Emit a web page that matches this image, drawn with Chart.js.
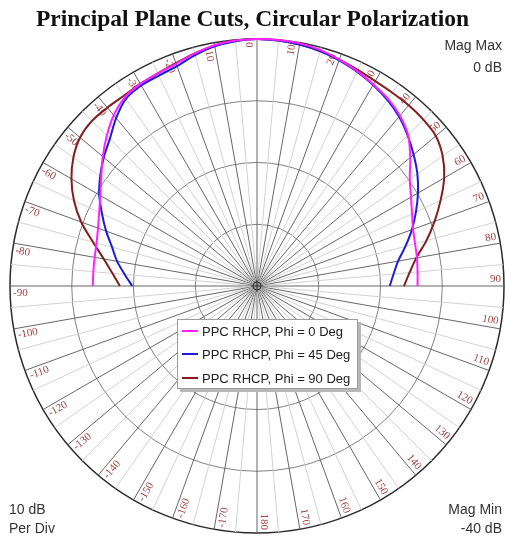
<!DOCTYPE html>
<html>
<head>
<meta charset="utf-8">
<script src="https://cdn.jsdelivr.net/npm/chart.js@4/dist/chart.umd.min.js"></script>
<style>
  html, body { margin: 0; padding: 0; background: #fff; }
  #wrap { position: relative; width: 505px; height: 539px; overflow: hidden; }
  #plot { position: absolute; left: 0; top: 0; }
  .title { position: absolute; left: 0; top: 7px; width: 505px; text-align: center;
           font: bold 23.5px "Liberation Serif", "Times New Roman", serif; line-height: 23px; color: #111; }
  .note { position: absolute; font: 14px "Liberation Sans", Arial, sans-serif; line-height: 16px; color: #333; white-space: nowrap; }
  .r { text-align: right; }
  #legend { position: absolute; left: 177px; top: 319px; width: 179px; height: 68px; background: #fff;
            border: 1px solid #9c9c9c; box-shadow: 3px 3px 0 #b8b8b8; }
  .row { position: absolute; left: 4px; height: 16px; display: flex; align-items: center; white-space: nowrap;
         font: 13px "Liberation Sans", Arial, sans-serif; color: #222; }
  .swatch { width: 16px; height: 2px; margin-right: 4px; }
</style>
</head>
<body>
<div id="wrap">
  <canvas id="plot" width="505" height="539"></canvas>
  <div class="title">Principal Plane Cuts, Circular Polarization</div>
  <div class="note r" style="right:3px; top:37px;">Mag Max</div>
  <div class="note r" style="right:3px; top:59px;">0 dB</div>
  <div class="note" style="left:9px; top:501px;">10 dB</div>
  <div class="note" style="left:9px; top:520px;">Per Div</div>
  <div class="note r" style="right:3px; top:501px;">Mag Min</div>
  <div class="note r" style="right:3px; top:520px;">-40 dB</div>
  <div id="legend"></div>
</div>
<script>
// Theta (deg, 0 = boresight at top, clockwise positive) and gain in dB per cut
const thetaDeg = [-90, -85, -80, -75, -70, -65, -60, -55, -50, -45, -40, -35, -30, -25, -20, -15, -10, -5,
                  0, 5, 10, 15, 20, 25, 30, 35, 40, 45, 50, 55, 60, 65, 70, 75, 80, 85, 90];
const phi0 = [-13.4, -13.4, -13.3, -13.1, -12.6, -11.8, -10.7, -9.2, -7.4, -5.6, -3.9, -2.7, -2.2, -2.0, -1.7, -1.0, -0.4, -0.1,
              0.0, 0.0, -0.1, -0.4, -1.0, -1.6, -2.3, -3.0, -4.0, -5.4, -7.6, -9.8, -11.2, -12.3, -13.1, -13.5, -13.7, -13.9, -14.0];
const phi45 = [-19.8, -18.5, -17.0, -15.7, -14.0, -12.3, -10.5, -9.0, -7.6, -6.3, -4.5, -3.0, -2.5, -2.4, -2.1, -1.3, -0.6, -0.2,
               0.0, -0.1, -0.3, -0.6, -1.1, -1.7, -2.4, -3.2, -4.2, -5.5, -6.9, -8.3, -9.9, -11.6, -13.3, -15.1, -16.8, -17.8, -18.5];
const phi90 = [-17.8, -16.5, -14.8, -12.5, -9.7, -7.3, -5.3, -3.7, -2.6, -2.2, -2.3, -2.4, -2.2, -2.0, -1.6, -1.0, -0.5, -0.1,
               0.0, -0.1, -0.3, -0.6, -1.0, -1.4, -1.7, -1.8, -1.8, -1.9, -2.2, -3.3, -5.0, -7.2, -9.4, -11.6, -13.8, -15.2, -16.2];

const seriesNames = ['PPC RHCP, Phi = 0 Deg', 'PPC RHCP, Phi = 45 Deg', 'PPC RHCP, Phi = 90 Deg'];
const seriesColors = ['#ff22ff', '#1c1ce0', '#861c1c'];

// Angle tick labels, every 10 deg going clockwise from the top
const angleTickLabels = ['0', '10', '20', '30', '40', '50', '60', '70', '80', '90', '100', '110', '120', '130', '140', '150', '160', '170',
                         '180', '-170', '-160', '-150', '-140', '-130', '-120', '-110', '-100', '-90', '-80', '-70', '-60', '-50', '-40', '-30', '-20', '-10'];

const magMin = -40, magMax = 0, magStep = 10;
const spokeStep = 5;                 // one spoke every 5 deg, labelled every 10 deg
const spokeCount = 360 / spokeStep;

// Spoke labels for the radial scale (one per 5 deg)
const spokes = [];
for (let i = 0; i < spokeCount; i++) spokes.push(String(i * spokeStep));

// Place each cut's samples on the matching spoke; the back hemisphere stays empty
function onSpokes(values) {
  const arr = new Array(spokeCount).fill(null);
  thetaDeg.forEach((t, k) => {
    const idx = (((t % 360) + 360) % 360) / spokeStep;
    arr[idx] = values[k];
  });
  return arr;
}
const seriesValues = [phi0, phi45, phi90];

// Legend
const legendEl = document.getElementById('legend');
const rowTops = [3, 26, 50];
seriesNames.forEach((name, i) => {
  const row = document.createElement('div');
  row.className = 'row';
  row.style.top = rowTops[i] + 'px';
  row.innerHTML = '<span class="swatch" style="background:' + seriesColors[i] + '"></span><span>' + name + '</span>';
  legendEl.appendChild(row);
});

// Rotated angle labels and the small centre marker
const polarDecor = {
  id: 'polarDecor',
  beforeDatasetsDraw(chart) {
    const s = chart.scales.r;
    const ctx = chart.ctx;
    ctx.save();
    ctx.font = '11px "Liberation Serif", "Times New Roman", serif';
    ctx.fillStyle = '#a5403f';
    ctx.textBaseline = 'middle';
    angleTickLabels.forEach((txt, j) => {
      const idx = j * (10 / spokeStep);
      const deg = idx * spokeStep;
      const signed = deg > 180 ? deg - 360 : deg;
      const p = s.getPointPosition(idx, s.drawingArea - 3);
      const rot = (signed >= 0 ? signed - 90 : signed + 90) * Math.PI / 180;
      ctx.save();
      ctx.translate(p.x, p.y);
      ctx.rotate(rot);
      ctx.textAlign = signed >= 0 ? 'right' : 'left';
      ctx.fillText(txt, 0, signed >= 0 ? -7 : 7);
      ctx.restore();
    });
    ctx.strokeStyle = '#333';
    ctx.lineWidth = 1;
    ctx.beginPath();
    ctx.arc(s.xCenter, s.yCenter, 4, 0, Math.PI * 2);
    ctx.stroke();
    ctx.beginPath();
    ctx.moveTo(s.xCenter - 6, s.yCenter); ctx.lineTo(s.xCenter + 6, s.yCenter);
    ctx.moveTo(s.xCenter, s.yCenter - 6); ctx.lineTo(s.xCenter, s.yCenter + 6);
    ctx.stroke();
    ctx.restore();
  }
};

new Chart(document.getElementById('plot'), {
  type: 'radar',
  data: {
    labels: spokes,
    datasets: seriesValues.map((vals, i) => ({
      label: seriesNames[i],
      data: onSpokes(vals),
      borderColor: seriesColors[i],
      backgroundColor: 'transparent',
      borderWidth: 2,
      fill: false,
      spanGaps: false,
      tension: 0.3,
      pointRadius: 0
    }))
  },
  options: {
    responsive: false,
    animation: false,
    devicePixelRatio: 1,
    layout: { padding: { left: 10, right: 1, top: 39, bottom: 6 } },
    plugins: { legend: { display: false }, tooltip: { enabled: false }, title: { display: false } },
    scales: {
      r: {
        min: magMin,
        max: magMax,
        startAngle: 0,
        ticks: { display: false, stepSize: magStep },
        pointLabels: { display: false },
        grid: {
          circular: true,
          color: (c) => (c.tick && c.tick.value === magMax ? '#2a2a2a' : '#808080'),
          lineWidth: (c) => (c.tick && c.tick.value === magMax ? 1.5 : 1)
        },
        angleLines: {
          color: (c) => (c.index % 2 === 0 ? '#666666' : '#d2d2d2'),
          lineWidth: 1
        }
      }
    }
  },
  plugins: [polarDecor]
});
</script>
</body>
</html>
